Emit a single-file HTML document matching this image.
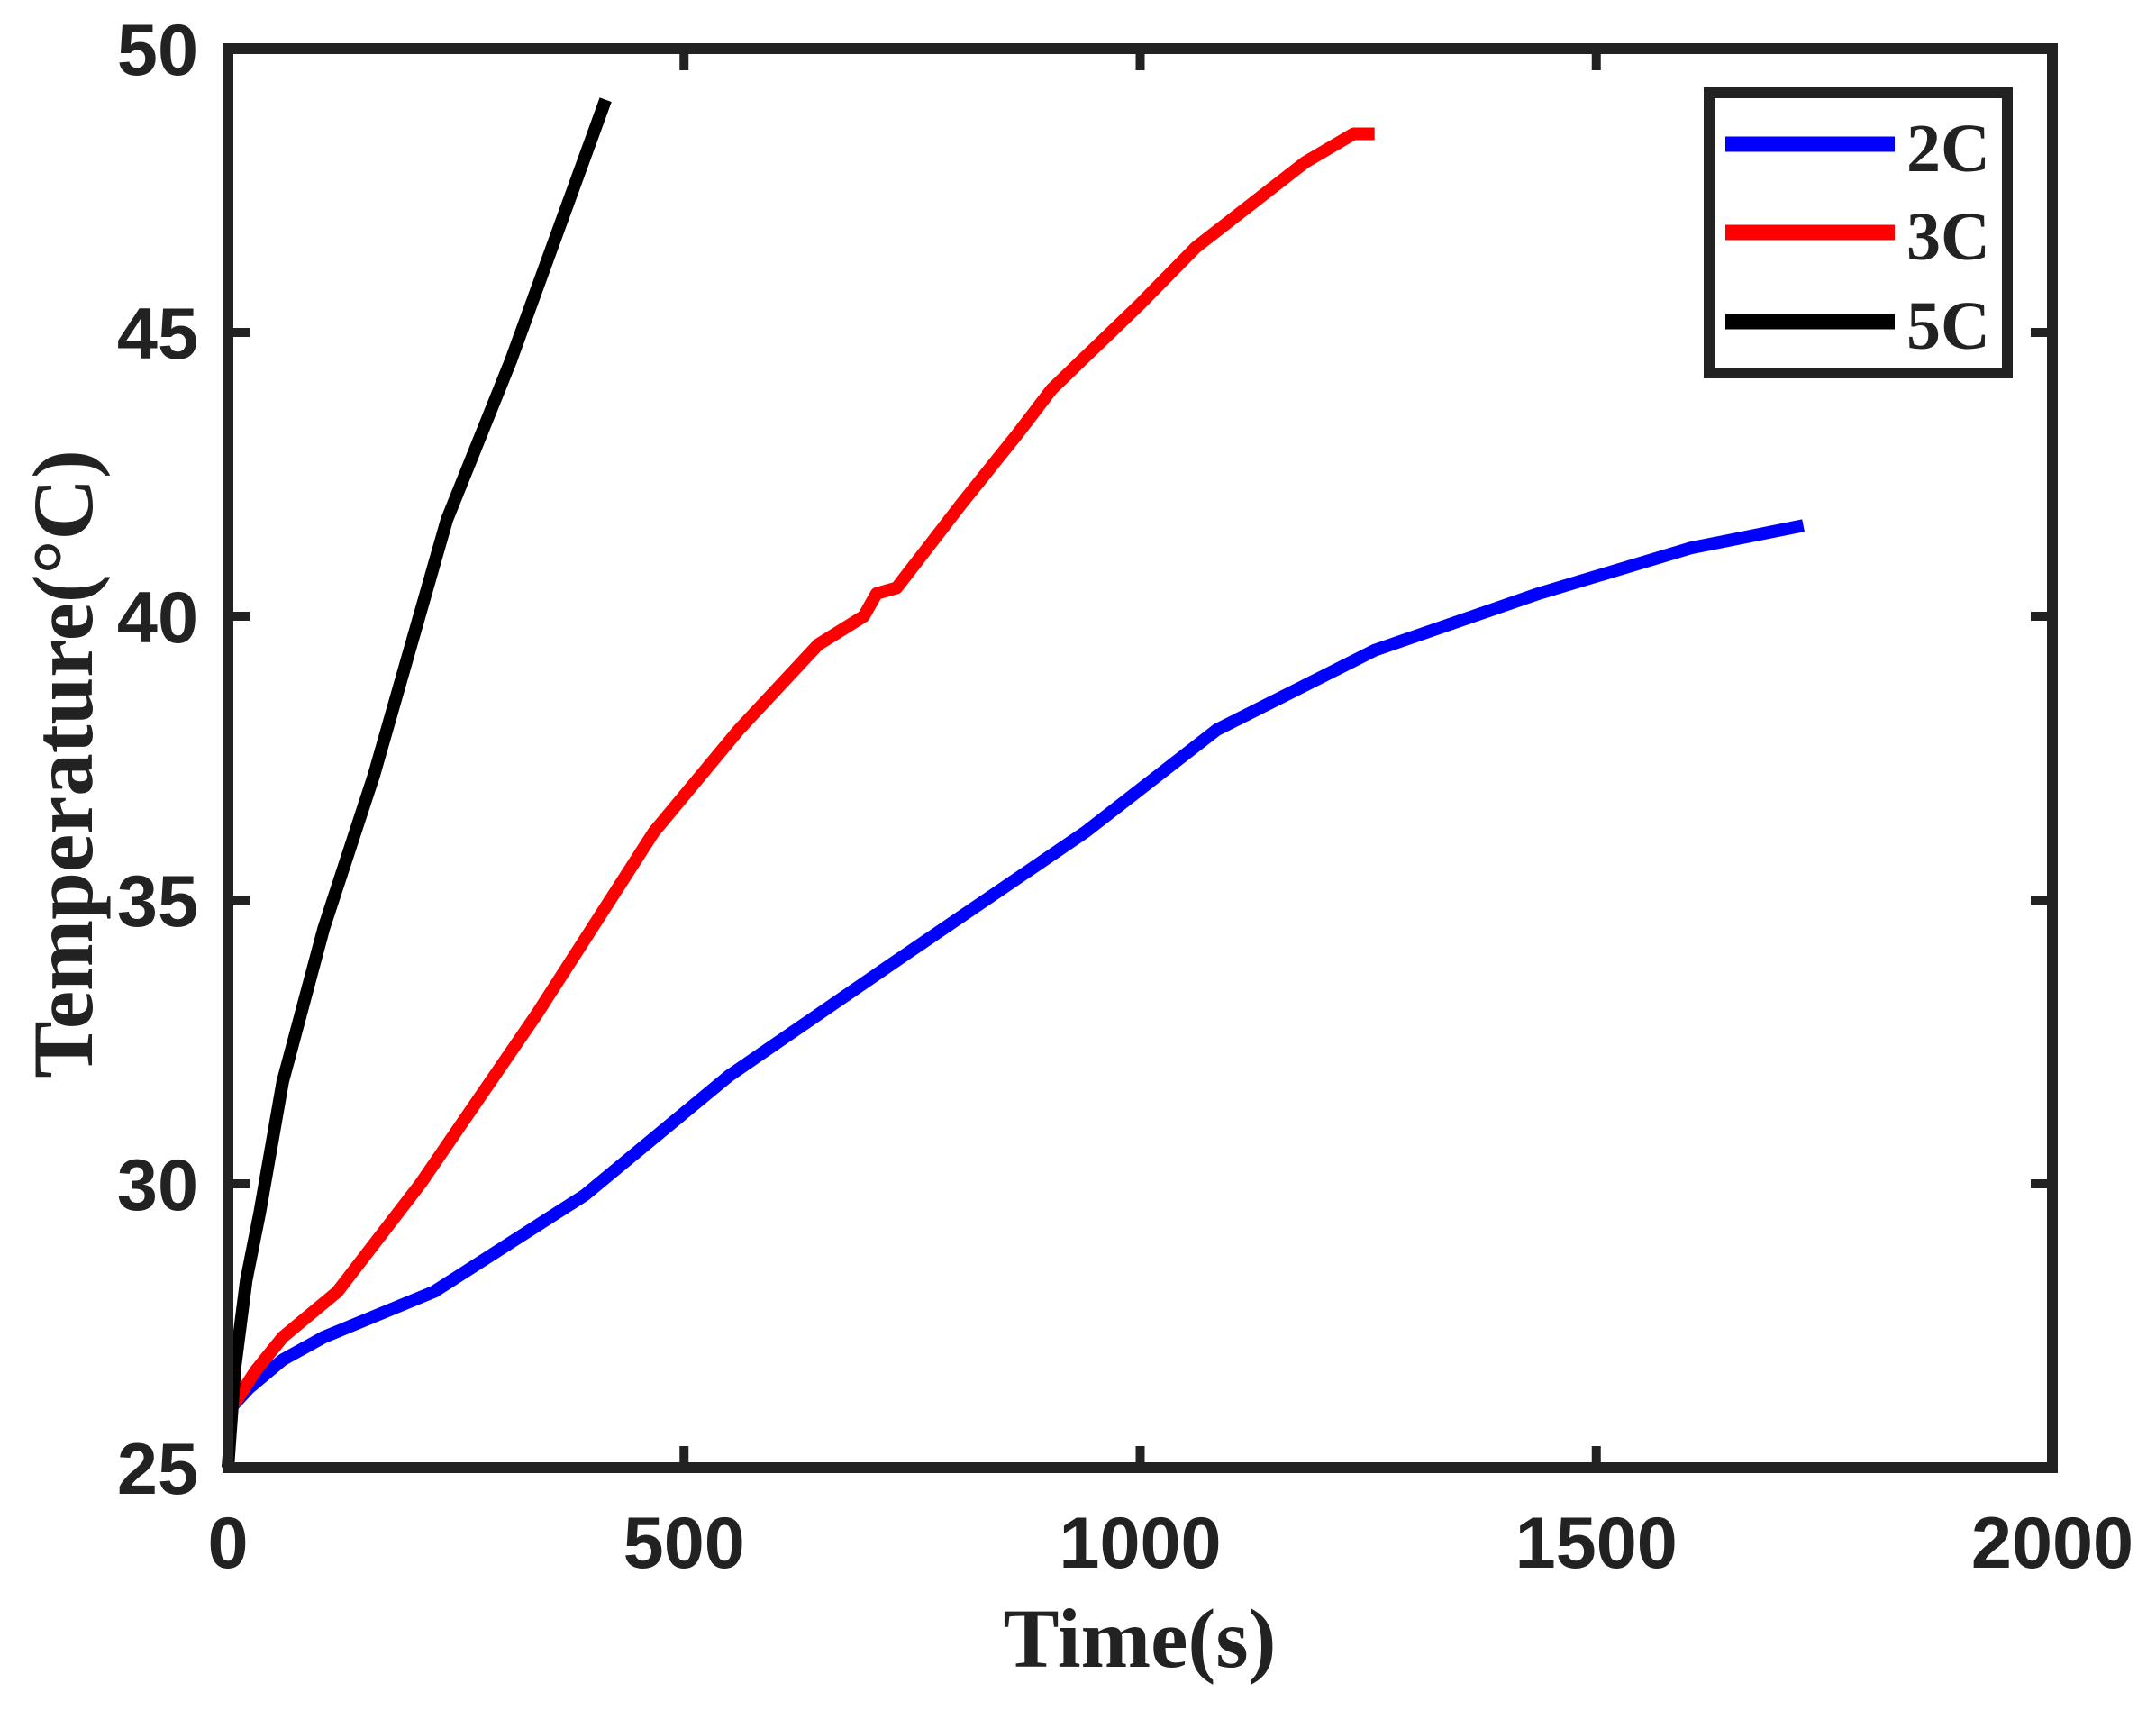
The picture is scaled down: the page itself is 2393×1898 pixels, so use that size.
<!DOCTYPE html>
<html><head><meta charset="utf-8"><style>
html,body{margin:0;padding:0;background:#fff;}
svg{display:block;}
.tick{font-family:"Liberation Sans",sans-serif;font-weight:bold;font-size:81px;fill:#222;}
.ttl{font-family:"Liberation Serif",serif;font-weight:bold;fill:#222;}
</style></head><body>
<svg id="chart" width="2393" height="1898" viewBox="0 0 2393 1898" xmlns="http://www.w3.org/2000/svg">
<g id="series"></g>
<rect x="253" y="54" width="2025" height="1575" fill="none" stroke="#222" stroke-width="12"/>
<g id="ticks"></g>
<text class="ttl" x="1265" y="1850" font-size="93" text-anchor="middle">Time(s)</text>
<text class="ttl" x="0" y="0" font-size="95" text-anchor="middle" transform="translate(102,848) rotate(-90)">Temperature(°C)</text>
<g>
<rect x="1897" y="103" width="331" height="311" fill="#fff" stroke="#222" stroke-width="12"/>
<line x1="1915" y1="160" x2="2103" y2="160" stroke="#0000ff" stroke-width="17"/>
<line x1="1915" y1="258" x2="2103" y2="258" stroke="#ff0000" stroke-width="17"/>
<line x1="1915" y1="357" x2="2103" y2="357" stroke="#000" stroke-width="17"/>
<text class="ttl" x="2116" y="190" font-size="76" fill="#000">2C</text>
<text class="ttl" x="2116" y="288" font-size="76" fill="#000">3C</text>
<text class="ttl" x="2116" y="387" font-size="76" fill="#000">5C</text>
</g>
</svg>
<script>
const xTicks = [0, 500, 1000, 1500, 2000];
const yTicks = [25, 30, 35, 40, 45, 50];
const t2C = [0, 23, 60, 105, 226, 391, 549, 730, 940, 1084, 1257, 1437, 1603, 1727];
const v2C = [26.0, 26.4, 26.9, 27.3, 28.1, 29.8, 31.9, 33.9, 36.2, 38.0, 39.4, 40.4, 41.2, 41.6];
const t3C = [0, 10, 30, 60, 120, 211, 339, 467, 560, 647, 697, 711, 733, 805, 865, 903, 1000, 1061, 1181, 1234, 1257];
const v3C = [26.0, 26.2, 26.7, 27.3, 28.1, 30.0, 33.0, 36.2, 38.0, 39.5, 40.0, 40.4, 40.5, 42.0, 43.2, 44.0, 45.5, 46.5, 48.0, 48.5, 48.5];
const t5C = [0, 8, 20, 35, 60, 105, 160, 240, 310, 414];
const v5C = [25.0, 26.8, 28.3, 29.5, 31.8, 34.5, 37.2, 41.7, 44.5, 49.1];

const X0 = 253, X1 = 2278, Y0 = 1629, Y1 = 54;
function xs(t){ return X0 + (t - 0) / 2000 * (X1 - X0); }
function ys(v){ return Y0 - (v - 25) / 25 * (Y0 - Y1); }
const NS = 'http://www.w3.org/2000/svg';

const tg = document.getElementById('ticks');
xTicks.forEach(function(t){
  const x = xs(t);
  [[Y0, Y0 - 24], [Y1, Y1 + 24]].forEach(function(p){
    const l = document.createElementNS(NS, 'line');
    
    
    l.setAttribute('x1', x); l.setAttribute('x2', x);
    l.setAttribute('y1', p[0]); l.setAttribute('y2', p[1]);
    l.setAttribute('stroke', '#222'); l.setAttribute('stroke-width', '10');
    tg.appendChild(l);
  });
  const tx = document.createElementNS(NS, 'text');
  
  
  tx.setAttribute('class', 'tick');
  tx.setAttribute('x', x); tx.setAttribute('y', 1740);
  tx.setAttribute('text-anchor', 'middle');
  tx.textContent = t;
  tg.appendChild(tx);
});
yTicks.forEach(function(v){
  const y = ys(v);
  [[X0, X0 + 24], [X1, X1 - 24]].forEach(function(p){
    const l = document.createElementNS(NS, 'line');
    
    
    l.setAttribute('x1', p[0]); l.setAttribute('x2', p[1]);
    l.setAttribute('y1', y); l.setAttribute('y2', y);
    l.setAttribute('stroke', '#222'); l.setAttribute('stroke-width', '10');
    tg.appendChild(l);
  });
  const tx = document.createElementNS(NS, 'text');
  
  
  tx.setAttribute('class', 'tick');
  tx.setAttribute('x', 220); tx.setAttribute('y', y + 29);
  tx.setAttribute('text-anchor', 'end');
  tx.textContent = v;
  tg.appendChild(tx);
});

const sg = document.getElementById('series');
function drawLine(ts, vs, color, name){
  const p = document.createElementNS(NS, 'polyline');
  
  
  p.setAttribute('points', ts.map(function(t, i){ return xs(t).toFixed(1) + ',' + ys(vs[i]).toFixed(1); }).join(' '));
  p.setAttribute('fill', 'none');
  p.setAttribute('stroke', color);
  p.setAttribute('stroke-width', '14');
  p.setAttribute('stroke-linejoin', 'round');
  sg.appendChild(p);
}
drawLine(t2C, v2C, '#0000ff', 'series-2c-line');
drawLine(t3C, v3C, '#ff0000', 'series-3c-line');
drawLine(t5C, v5C, '#000000', 'series-5c-line');
</script>
</body></html>
